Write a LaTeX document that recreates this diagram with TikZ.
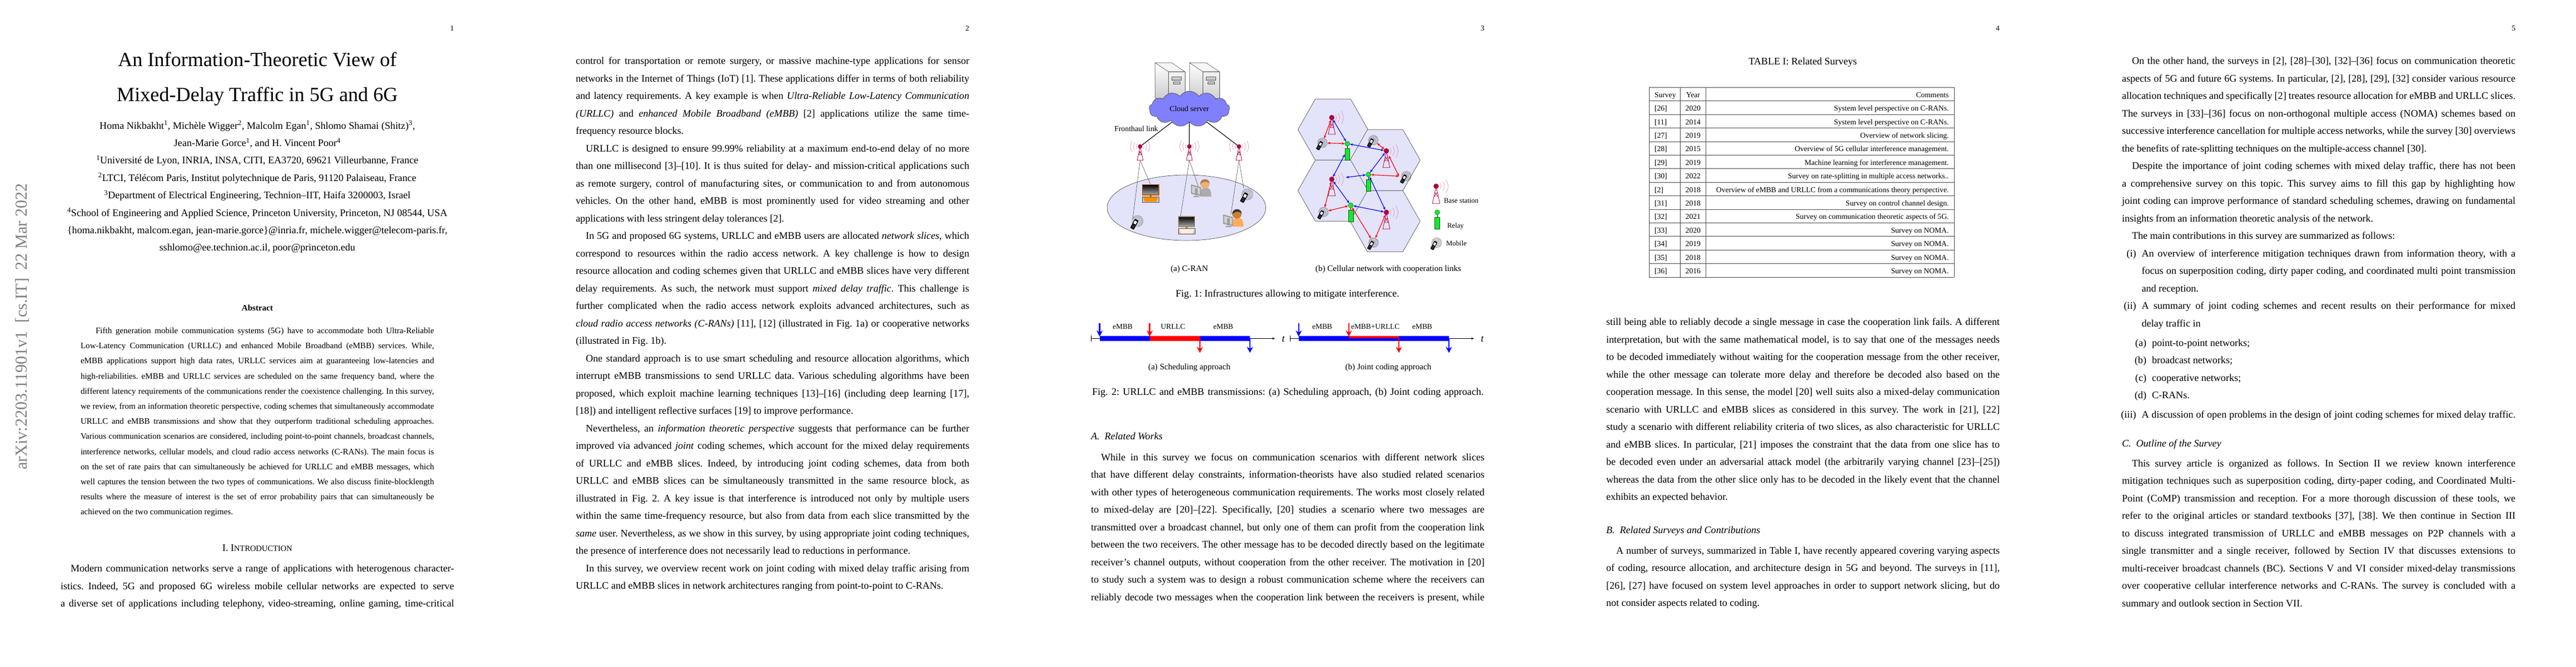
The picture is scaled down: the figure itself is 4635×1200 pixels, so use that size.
\documentclass[tikz,border=0pt]{standalone}
\usepackage{fontspec}
\setmainfont{Liberation Serif}
\usetikzlibrary{arrows.meta,shapes.symbols,shapes.geometric}
\definecolor{bscolor}{rgb}{0.69,0.0,0.25}
\definecolor{wavecolor}{rgb}{0.88,0.55,0.66}
\definecolor{cellfill}{rgb}{0.89,0.89,0.98}
\definecolor{cloudfill}{rgb}{0.5,0.5,1.0}
\definecolor{relayfill}{rgb}{0.1,0.9,0.2}
\newcommand{\bodyfont}{\fontsize{18.07}{20}\selectfont}
\newcommand{\smallfont}{\fontsize{15.1}{17}\selectfont}
\newcommand{\tinyfont}{\fontsize{13.6}{15}\selectfont}
\newcommand{\lab}[2]{\hbox to #1pt{\hss#2}\kern10pt}
\newcommand{\bodypara}[4]{%
  \foreach \txt [count=\n from 0] in {#4} {
    \node (#1\n) [bodyline] at (#2,#3+31.5*\n) {\hbox to 708pt{\txt}};
  }}
\newcommand{\pcicon}[4]{%
  \shade[top color=black, bottom color=gray!65, draw=#3, line width=1.1] (#1,#2) rectangle ++(29.5,18.5);
  \fill[#3] (#1+13,#2+18.5) rectangle ++(3.5,3);
  \draw[gray!70!black, fill=gray!45, line width=.8] (#1,#2+21.5) rectangle ++(29.5,10);
  \fill[#4] (#1+1,#2+22.3) -- (#1+28.5,#2+22.3) -- (#1+25,#2+30.7) -- (#1+4.5,#2+30.7) -- cycle;
}
\newcommand{\personicon}[5]{%
  \begin{scope}[shift={(#1,#2)}]
    \fill[#3] (-8,23) -- (-6.5,10) .. controls (-3,6) and (6,6) .. (9,10) .. controls (11,14) and (11.5,18) .. (11.5,23) -- cycle;
    \fill[gray!75] (-25,1) -- (-7,6) -- (-7,22) -- (-25,18) -- cycle;
    \fill[gray!35] (-23,4) -- (-9,8) -- (-9,19) -- (-23,16) -- cycle;
    \fill[gray!75] (-18,8) rectangle (-13,21);
    \fill[gray!75] (-21,22) rectangle (-10,24);
    \fill[#4] (0,0) circle [radius=8.5];
    \fill[#5] (-8.5,1) .. controls (-9,-11) and (8,-11) .. (8.5,-1) .. controls (3,-5) and (-3,-5) .. cycle;
  \end{scope}
}
\tikzset{
  bodyline/.style={anchor=base west, inner sep=0, outer sep=0, font=\bodyfont},
  centerline/.style={anchor=base, inner sep=0, outer sep=0, font=\bodyfont},
  abstline/.style={anchor=base west, inner sep=0, outer sep=0, font=\smallfont},
  subcap/.style={anchor=base, inner sep=0, outer sep=0, font=\smallfont},
  cellline/.style={anchor=base, inner sep=0, outer sep=0, font=\tinyfont},
  pagenum/.style={anchor=base east, inner sep=0, outer sep=0, font=\tinyfont},
  bsdot/.style={circle, fill=bscolor, draw=bscolor!80!black, line width=.3, inner sep=0, minimum size=#1},
  bsdot/.default=9pt,
  relaydot/.style={circle, fill=relayfill, draw=green!40!black, line width=.4, inner sep=0, minimum size=9pt},
  relaybar/.style={rectangle, fill=relayfill, draw=green!40!black, line width=.5, inner sep=0, minimum width=8.8pt, minimum height=21pt, anchor=north},
  mobspot/.style={circle, inner sep=0, minimum size=17pt},
  bidir/.style={<->, >={Stealth[length=5.5pt,width=4.5pt]}, line width=1.15},
  slotarrow/.style={->, >={Stealth[length=11pt,width=11pt]}, line width=2.6},
  thinlink/.style={gray!60!black, line width=.55},
  tabrule/.style={gray!60!black, line width=.8},
  mast/.pic={
    \draw[bscolor, line width=.8] (-5.3,25) -- (0,0) -- (5.3,25) -- cycle;
    \draw[bscolor, line width=.6] (-3.2,15) -- (3.2,15) (-2,9.5) -- (2,9.5) (-2,9.5) -- (3.2,15) (2,9.5) -- (-3.2,15);
  },
  wavesr/.pic={
    \foreach \r in {7,12,17.5}
      \draw[wavecolor, line width=.6] (.82*\r,-.57*\r) .. controls (1.06*\r,0) .. (.82*\r,.57*\r);
  },
  wavesl/.pic={
    \foreach \r in {7,12,17.5}
      \draw[wavecolor, line width=.6] (-.82*\r,-.57*\r) .. controls (-1.06*\r,0) .. (-.82*\r,.57*\r);
  },
  mobile/.pic={
    \foreach \r in {3,5,7,8.7}
      \draw[gray!80!black, line width=.5] (0,0) circle [radius=\r];
    \begin{scope}[shift={(-5,5)}, rotate=-28]
      \fill[black, rounded corners=.8] (-3.2,-8) rectangle (3.2,8);
      \fill[white] (-2,-5.5) rectangle (2,-.5);
      \fill[gray!35!black] (-2,1) rectangle (2,6.5);
    \end{scope}
  },
  server/.pic={
    \shade[top color=white, bottom color=gray!40, draw=gray!70!black, line width=.6] (0,0) -- (24,16) -- (24,64) -- (0,64) -- cycle;
    \shade[top color=gray!10, bottom color=gray!35, draw=gray!70!black, line width=.6] (24,16) -- (53.5,16) -- (53.5,64) -- (24,64) -- cycle;
    \fill[gray!8, draw=gray!70!black, line width=.6] (0,0) -- (29.8,0) -- (53.5,16) -- (24,16) -- cycle;
    \shade[top color=gray!25, bottom color=gray!55, draw=gray!70!black, line width=.4] (30,25) rectangle (47,31);
    \shade[top color=gray!25, bottom color=gray!55, draw=gray!70!black, line width=.4] (32.5,34) rectangle (45,38.6);
  },
  hexcell/.pic={
    \draw[gray!65!black, fill=cellfill, line width=.7] (-63,0) -- (-31.8,-55) -- (31.8,-55) -- (63,0) -- (31.8,55) -- (-31.8,55) -- cycle;
  }
}
\begin{document}
\frenchspacing
\begin{tikzpicture}[x=1pt,y=-1pt]
\useasboundingbox (0,0) rectangle (4635,1200);
\fill[white] (0,0) rectangle (4635,1200);

\node (pnuma) [pagenum] at (817,55) {1};
\node (pnumb) [pagenum] at (1744,55) {2};
\node (pnumc) [pagenum] at (2671,55) {3};
\node (pnumd) [pagenum] at (3598,55) {4};
\node (pnume) [pagenum] at (4526,55) {5};

\node (stamp) [anchor=base west, inner sep=0, rotate=90, text=gray, font=\fontsize{30.2}{32}\selectfont] at (48,846) {arXiv:2203.11901v1\hspace{.47em}[cs.IT]\hspace{.47em}22 Mar 2022};

\node (titlea) [centerline, font=\fontsize{36.2}{38}\selectfont] at (463,119.5) {An Information-Theoretic View of};
\node (titleb) [centerline, font=\fontsize{36.2}{38}\selectfont] at (463,182.5) {Mixed-Delay Traffic in 5G and 6G};
\foreach \txt [count=\n from 0] in {
  {Homa Nikbakht\textsuperscript{1}, Michèle Wigger\textsuperscript{2}, Malcolm Egan\textsuperscript{1}, Shlomo Shamai (Shitz)\textsuperscript{3},},
  {Jean-Marie Gorce\textsuperscript{1}, and H. Vincent Poor\textsuperscript{4}},
  {\textsuperscript{1}Université de Lyon, INRIA, INSA, CITI, EA3720, 69621 Villeurbanne, France},
  {\textsuperscript{2}LTCI, Télécom Paris, Institut polytechnique de Paris, 91120 Palaiseau, France},
  {\textsuperscript{3}Department of Electrical Engineering, Technion--IIT, Haifa 3200003, Israel},
  {\textsuperscript{4}School of Engineering and Applied Science, Princeton University, Princeton, NJ 08544, USA},
  {\{homa.nikbakht, malcom.egan, jean-marie.gorce\}@inria.fr, michele.wigger@telecom-paris.fr,},
  {sshlomo@ee.technion.ac.il, poor@princeton.edu}} {
  \node (auth\n) [centerline] at (463,232+31.4*\n) {\txt};
}
\node (abshead) [subcap, font=\smallfont\bfseries] at (463,559) {Abstract};
\foreach \txt [count=\n from 0] in {
  {\kern27pt Fifth generation mobile communication systems (5G) have to accommodate both Ultra-Reliable},
  {Low-Latency Communication (URLLC) and enhanced Mobile Broadband (eMBB) services. While,},
  {eMBB applications support high data rates, URLLC services aim at guaranteeing low-latencies and},
  {high-reliabilities. eMBB and URLLC services are scheduled on the same frequency band, where the},
  {different latency requirements of the communications render the coexistence challenging. In this survey,},
  {we review, from an information theoretic perspective, coding schemes that simultaneously accommodate},
  {URLLC and eMBB transmissions and show that they outperform traditional scheduling approaches.},
  {Various communication scenarios are considered, including point-to-point channels, broadcast channels,},
  {interference networks, cellular models, and cloud radio access networks (C-RANs). The main focus is},
  {on the set of rate pairs that can simultaneously be achieved for URLLC and eMBB messages, which},
  {well captures the tension between the two types of communications. We also discuss finite-blocklength},
  {results where the measure of interest is the set of error probability pairs that can simultaneously be},
  {achieved on the two communication regimes.\hfill}} {
  \node (abst\n) [abstline] at (145,600.5+27.2*\n) {\hbox to 636pt{\txt}};
}
\node (secone) [centerline] at (463,992) {I. I{\fontsize{14.5}{16}\selectfont NTRODUCTION}};
\bodypara{pa}{109}{1029.5}{
  {\kern18pt Modern communication networks serve a range of applications with heterogenous character-},
  {istics. Indeed, 5G and proposed 6G wireless mobile cellular networks are expected to serve},
  {a diverse set of applications including telephony, video-streaming, online gaming, time-critical}}

\bodypara{pb}{1036}{115.5}{
  {control for transportation or remote surgery, or massive machine-type applications for sensor},
  {networks in the Internet of Things (IoT) [1]. These applications differ in terms of both reliability},
  {and latency requirements. A key example is when \textit{Ultra-Reliable Low-Latency Communication}},
  {\textit{(URLLC)} and \textit{enhanced Mobile Broadband (eMBB)} [2] applications utilize the same time-},
  {frequency resource blocks.\hfill},
  {\kern18pt URLLC is designed to ensure 99.99\% reliability at a maximum end-to-end delay of no more},
  {than one millisecond [3]--[10]. It is thus suited for delay- and mission-critical applications such},
  {as remote surgery, control of manufacturing sites, or communication to and from autonomous},
  {vehicles. On the other hand, eMBB is most prominently used for video streaming and other},
  {applications with less stringent delay tolerances [2].\hfill},
  {\kern18pt In 5G and proposed 6G systems, URLLC and eMBB users are allocated \textit{network slices}, which},
  {correspond to resources within the radio access network. A key challenge is how to design},
  {resource allocation and coding schemes given that URLLC and eMBB slices have very different},
  {delay requirements. As such, the network must support \textit{mixed delay traffic}. This challenge is},
  {further complicated when the radio access network exploits advanced architectures, such as},
  {\textit{cloud radio access networks (C-RANs)} [11], [12] (illustrated in Fig. 1a) or cooperative networks},
  {(illustrated in Fig. 1b).\hfill},
  {\kern18pt One standard approach is to use smart scheduling and resource allocation algorithms, which},
  {interrupt eMBB transmissions to send URLLC data. Various scheduling algorithms have been},
  {proposed, which exploit machine learning techniques [13]--[16] (including deep learning [17],},
  {[18]) and intelligent reflective surfaces [19] to improve performance.\hfill},
  {\kern18pt Nevertheless, an \textit{information theoretic perspective} suggests that performance can be further},
  {improved via advanced \textit{joint} coding schemes, which account for the mixed delay requirements},
  {of URLLC and eMBB slices. Indeed, by introducing joint coding schemes, data from both},
  {URLLC and eMBB slices can be simultaneously transmitted in the same resource block, as},
  {illustrated in Fig. 2. A key issue is that interference is introduced not only by multiple users},
  {within the same time-frequency resource, but also from data from each slice transmitted by the},
  {\textit{same} user. Nevertheless, as we show in this survey, by using appropriate joint coding techniques,},
  {the presence of interference does not necessarily lead to reductions in performance.\hfill},
  {\kern18pt In this survey, we overview recent work on joint coding with mixed delay traffic arising from},
  {URLLC and eMBB slices in network architectures ranging from point-to-point to C-RANs.\hfill}}

\pic at (2078.3,113) {server};
\pic at (2140.3,113) {server};
\node (cloud) [cloud, cloud puffs=13, cloud puff arc=115, aspect=2.27, minimum width=145pt, minimum height=64pt, inner sep=0, fill=cloudfill, draw=gray!50!black, line width=.6, font=\fontsize{13.8}{15}\selectfont] at (2140,196) {Cloud server};
\node (fhlabel) [anchor=base west, inner sep=0, font=\fontsize{13.8}{15}\selectfont] at (2005,236) {Fronthaul link};

\node (cell) [ellipse, fill=cellfill, draw=gray!65!black, line width=.7, minimum width=285.4pt, minimum height=118pt, inner sep=0] at (2134.8,374) {};
\foreach \nm/\x in {bsa/2051.4, bsb/2140, bsc/2229.3} {
  \pic at (\x,263.7) {mast};
  \pic at (\x,263.7) {wavesr};
  \pic at (\x,263.7) {wavesl};
  \node (\nm) [bsdot=7.5pt] at (\x,263.7) {};
  \coordinate (\nm foot) at (\x,288.7);
}
\draw[line width=1.1] (cloud) -- (bsa);
\draw[line width=1.1] (cloud) -- (bsb);
\draw[line width=1.1] (cloud) -- (bsc);
\coordinate (pcone) at (2070.6,333);
\coordinate (pctwo) at (2124,390);
\coordinate (userone) at (2156.5,337);
\coordinate (usertwo) at (2214.6,386.5);
\coordinate (mobone) at (2038,394);
\coordinate (mobtwo) at (2237.7,338.7);
\draw[thinlink] (bsafoot) -- (pcone);
\draw[thinlink] (bsafoot) -- (mobone);
\draw[thinlink] (bsbfoot) -- (pctwo);
\draw[thinlink] (bsbfoot) -- (userone);
\draw[thinlink] (bscfoot) -- (usertwo);
\draw[thinlink] (bscfoot) -- (mobtwo);
\pcicon{2055.5}{332.5}{orange!70!black}{orange!90!yellow}
\pcicon{2120.4}{390}{brown!55!gray}{orange!15}
\personicon{2168}{331}{gray!65}{orange!45!brown!60!white}{brown!70!gray}
\personicon{2225.6}{385}{orange!65}{brown!80!orange}{gray!45!black}
\pic[scale=1.15] at (2046.8,398) {mobile};
\pic[scale=1.15] at (2244.3,350) {mobile};

\pic at (2398.4,233.3) {hexcell};
\pic at (2492.3,288.3) {hexcell};
\pic at (2398.4,343.3) {hexcell};
\pic at (2492.3,398.3) {hexcell};
\foreach \nm/\x/\y in {bsp/2396.2/211.7, bsq/2494.5/271.7, bsr/2396.2/322.7, bss/2494.5/382.3} {
  \pic[scale=1.2] at (\x,\y) {mast};
  \pic[scale=1.2] at (\x,\y) {wavesr};
  \node (\nm) [bsdot] at (\x,\y) {};
}
\foreach \nm/\x/\y in {rlp/2424.3/258.7, rlq/2462.3/314.3, rlr/2430.4/369.7} {
  \node (\nm) [relaydot] at (\x,\y) {};
  \node (\nm bar) [relaybar] at (\x,\y+8.6) {};
  \draw[line width=.5] (\nm) -- (\nm bar);
}
\foreach \nm/\x/\y in {mbp/2379.4/257.3, mbq/2471/252.3, mbs/2381.5/381.7, mbt/2471.3/436.7} {
  \pic at (\x,\y) {mobile};
  \node (\nm) [mobspot] at (\x,\y) {};
}
\pic at (2530.4,317.3) {mobile};
\node (mbr) [mobspot, minimum size=26pt] at (2530.4,317.3) {};
\draw[bidir, red] (bsp) -- (mbp);
\draw[bidir, red] (mbp) -- (rlp);
\draw[bidir, blue] (bsp) -- (rlp);
\draw[bidir, blue] (rlp) -- (bsq);
\draw[bidir, blue] (rlpbar.west) -- (bsr);
\draw[bidir, blue] (bsq) -- (rlq);
\draw[bidir, red] (mbq) -- (bsq);
\draw[bidir, red, shorten <=5pt] (bsq) -- (mbr.west);
\draw[bidir, red] (rlq) -- (mbr.west);
\draw[bidir, blue, shorten <=21pt] (bsr) -- (rlq);
\draw[bidir, blue] (rlq) -- (bss);
\draw[bidir, red] (bsr) -- (mbs);
\draw[bidir, blue] (bsr) -- (rlr);
\draw[bidir, red] (mbs) -- (rlr);
\draw[bidir, blue] (rlr) -- (bss);
\draw[bidir, red] (rlr) -- (mbt);
\draw[bidir, red] (mbt) -- (bss);

\pic[scale=1.24] at (2584,335.3) {mast};
\pic[scale=1.24] at (2584,335.3) {wavesr};
\node (legbs) [bsdot] at (2584,335.3) {};
\node (legrl) [relaydot] at (2586,382.3) {};
\node (legbar) [relaybar, minimum width=9.4pt] at (2586,391) {};
\draw[line width=.5] (legrl) -- (legbar);
\pic at (2585,437) {mobile};
\node (legmb) [mobspot] at (2585,437) {};
\node (legbstxt) [abstline, font=\fontsize{12.8}{14}\selectfont] at (2598,365.5) {Base station};
\node (legrltxt) [abstline, font=\fontsize{12.8}{14}\selectfont] at (2604,410.6) {Relay};
\node (legmbtxt) [abstline, font=\fontsize{12.8}{14}\selectfont] at (2602,442) {Mobile};
\node (capa) [subcap] at (2140,488.7) {(a) C-RAN};
\node (capb) [subcap] at (2498,488.7) {(b) Cellular network with cooperation links};
\node (figone) [centerline] at (2316.6,534) {Fig. 1: Infrastructures allowing to mitigate interference.};

\foreach \nm/\x/\txt in {la/2020/eMBB, lb/2110.6/URLLC, lc/2201/eMBB, ld/2379/eMBB, le/2474.7/eMBB+URLLC, lf/2559/eMBB} {
  \node (\nm) [subcap, font=\fontsize{13.4}{15}\selectfont] at (\x,592.4) {\txt};
}
\coordinate (axa) at (1963.8,609.5);
\coordinate (axb) at (2294,609.5);
\coordinate (axc) at (2321.4,609.5);
\coordinate (axd) at (2652,609.5);
\draw[->, >={Stealth[length=5pt,width=4pt]}, line width=.7] (axa) -- (axb);
\draw[->, >={Stealth[length=5pt,width=4pt]}, line width=.7] (axc) -- (axd);
\draw[line width=.7] (1963.8,604) -- (1963.8,615);
\draw[line width=.7] (2321.4,604) -- (2321.4,615);
\node (ta) [subcap, font=\bodyfont\itshape] at (2309,615) {t};
\node (tb) [subcap, font=\bodyfont\itshape] at (2667,615) {t};
\fill[blue] (1978.6,605) rectangle (2068.7,613.8);
\fill[red] (2068.7,605) rectangle (2158.9,613.8);
\fill[blue] (2158.9,605) rectangle (2249,613.8);
\fill[blue] (2336.8,605) rectangle (2607,613.8);
\fill[red] (2427,605) rectangle (2517,609.2);
\foreach \nm/\x/\col in {ia/1978.6/blue, ib/2068.7/red, ic/2336.8/blue, id/2427/red} {
  \coordinate (\nm top) at (\x,581.5);
  \coordinate (\nm bot) at (\x,606);
  \draw[slotarrow, \col] (\nm top) -- (\nm bot);
}
\foreach \nm/\x/\col in {oa/2158.9/red, ob/2249/blue, oc/2517/red, od/2607/blue} {
  \coordinate (\nm top) at (\x,609);
  \coordinate (\nm bot) at (\x,635.5);
  \draw[slotarrow, \col] (\nm top) -- (\nm bot);
}
\node (scha) [subcap] at (2140,665.8) {(a) Scheduling approach};
\node (schb) [subcap] at (2498,665.8) {(b) Joint coding approach};
\node (figtwo) [bodyline] at (1965,711.7) {\hbox to 704.5pt{Fig. 2: URLLC and eMBB transmissions: (a) Scheduling approach, (b) Joint coding approach.}};
\node (seca) [bodyline] at (1963,791.3) {\textit{A.\hspace{.5em}Related Works}};
\bodypara{pc}{1963}{829}{
  {\kern18pt While in this survey we focus on communication scenarios with different network slices},
  {that have different delay constraints, information-theorists have also studied related scenarios},
  {with other types of heterogeneous communication requirements. The works most closely related},
  {to mixed-delay are [20]--[22]. Specifically, [20] studies a scenario where two messages are},
  {transmitted over a broadcast channel, but only one of them can profit from the cooperation link},
  {between the two receivers. The other message has to be decoded directly based on the legitimate},
  {receiver’s channel outputs, without cooperation from the other receiver. The motivation in [20]},
  {to study such a system was to design a robust communication scheme where the receivers can},
  {reliably decode two messages when the cooperation link between the receivers is present, while}}

\node (tabcap) [centerline] at (3243.7,116.7) {TABLE I: Related Surveys};
\foreach \k in {0,...,14}
  \draw[tabrule] (2967.4,157.3+24.4*\k) -- (3515.9,157.3+24.4*\k);
\foreach \x in {2967.4,3023.7,3069.4,3515.9}
  \draw[tabrule] (\x,157.3) -- (\x,498.9);
\foreach \cit/\yr/\cmt [count=\n from 0] in {
  Survey/Year/Comments,
  {[26]}/2020/System level perspective on C-RANs.,
  {[11]}/2014/System level perspective on C-RANs.,
  {[27]}/2019/Overview of network slicing.,
  {[28]}/2015/Overview of 5G cellular interference management.,
  {[29]}/2019/Machine learning for interference management.,
  {[30]}/2022/Survey on rate-splitting in multiple access networks..,
  {[2]}/2018/Overview of eMBB and URLLC from a communications theory perspective.,
  {[31]}/2018/Survey on control channel design.,
  {[32]}/2021/Survey on communication theoretic aspects of 5G.,
  {[33]}/2020/Survey on NOMA.,
  {[34]}/2019/Survey on NOMA.,
  {[35]}/2018/Survey on NOMA.,
  {[36]}/2016/Survey on NOMA.} {
  \node (cita\n) [cellline, anchor=base west] at (2977,175.3+24.4*\n) {\cit};
  \node (year\n) [cellline] at (3046.3,175.3+24.4*\n) {\yr};
  \node (comm\n) [cellline, anchor=base east] at (3506.4,175.3+24.4*\n) {\cmt};
}
\bodypara{pd}{2890}{585.5}{
  {still being able to reliably decode a single message in case the cooperation link fails. A different},
  {interpretation, but with the same mathematical model, is to say that one of the messages needs},
  {to be decoded immediately without waiting for the cooperation message from the other receiver,},
  {while the other message can tolerate more delay and therefore be decoded also based on the},
  {cooperation message. In this sense, the model [20] well suits also a mixed-delay communication},
  {scenario with URLLC and eMBB slices as considered in this survey. The work in [21], [22]},
  {study a scenario with different reliability criteria of two slices, as also characteristic for URLLC},
  {and eMBB slices. In particular, [21] imposes the constraint that the data from one slice has to},
  {be decoded even under an adversarial attack model (the arbitrarily varying channel [23]--[25])},
  {whereas the data from the other slice only has to be decoded in the likely event that the channel},
  {exhibits an expected behavior.\hfill}}
\node (secb) [bodyline] at (2890,960.5) {\textit{B.\hspace{.5em}Related Surveys and Contributions}};
\bodypara{pe}{2890}{997.2}{
  {\kern18pt A number of surveys, summarized in Table I, have recently appeared covering varying aspects},
  {of coding, resource allocation, and architecture design in 5G and beyond. The surveys in [11],},
  {[26], [27] have focused on system level approaches in order to support network slicing, but do},
  {not consider aspects related to coding.\hfill}}

\bodypara{pf}{3818}{115.6}{
  {\kern18pt On the other hand, the surveys in [2], [28]--[30], [32]--[36] focus on communication theoretic},
  {aspects of 5G and future 6G systems. In particular, [2], [28], [29], [32] consider various resource},
  {allocation techniques and specifically [2] treates resource allocation for eMBB and URLLC slices.},
  {The surveys in [33]--[36] focus on non-orthogonal multiple access (NOMA) schemes based on},
  {successive interference cancellation for multiple access networks, while the survey [30] overviews},
  {the benefits of rate-splitting techniques on the multiple-access channel [30].\hfill},
  {\kern18pt Despite the importance of joint coding schemes with mixed delay traffic, there has not been},
  {a comprehensive survey on this topic. This survey aims to fill this gap by highlighting how},
  {joint coding can improve performance of standard scheduling schemes, drawing on fundamental},
  {insights from an information theoretic analysis of the network.\hfill},
  {\kern18pt The main contributions in this survey are summarized as follows:\hfill},
  {\lab{25.5}{(i)}An overview of interference mitigation techniques drawn from information theory, with a},
  {\kern35.5pt focus on superposition coding, dirty paper coding, and coordinated multi point transmission},
  {\kern35.5pt and reception.\hfill},
  {\lab{25.5}{(ii)}A summary of joint coding schemes and recent results on their performance for mixed},
  {\kern35.5pt delay traffic in\hfill}}
\bodypara{pg}{3818}{623}{
  {\lab{44}{(a)}point-to-point networks;\hfill},
  {\lab{44}{(b)}broadcast networks;\hfill},
  {\lab{44}{(c)}cooperative networks;\hfill},
  {\lab{44}{(d)}C-RANs.\hfill}}
\node (pgend) [bodyline] at (3818,752.3) {\hbox to 708pt{\lab{25.5}{(iii)}A discussion of open problems in the design of joint coding schemes for mixed delay traffic.}};
\node (secc) [bodyline] at (3818,804) {\textit{C.\hspace{.5em}Outline of the Survey}};
\bodypara{ph}{3818}{840.3}{
  {\kern18pt This survey article is organized as follows. In Section II we review known interference},
  {mitigation techniques such as superposition coding, dirty-paper coding, and Coordinated Multi-},
  {Point (CoMP) transmission and reception. For a more thorough discussion of these tools, we},
  {refer to the original articles or standard textbooks [37], [38]. We then continue in Section III},
  {to discuss integrated transmission of URLLC and eMBB messages on P2P channels with a},
  {single transmitter and a single receiver, followed by Section IV that discusses extensions to},
  {multi-receiver broadcast channels (BC). Sections V and VI consider mixed-delay transmissions},
  {over cooperative cellular interference networks and C-RANs. The survey is concluded with a},
  {summary and outlook section in Section VII.\hfill}}
\end{tikzpicture}
\end{document}
